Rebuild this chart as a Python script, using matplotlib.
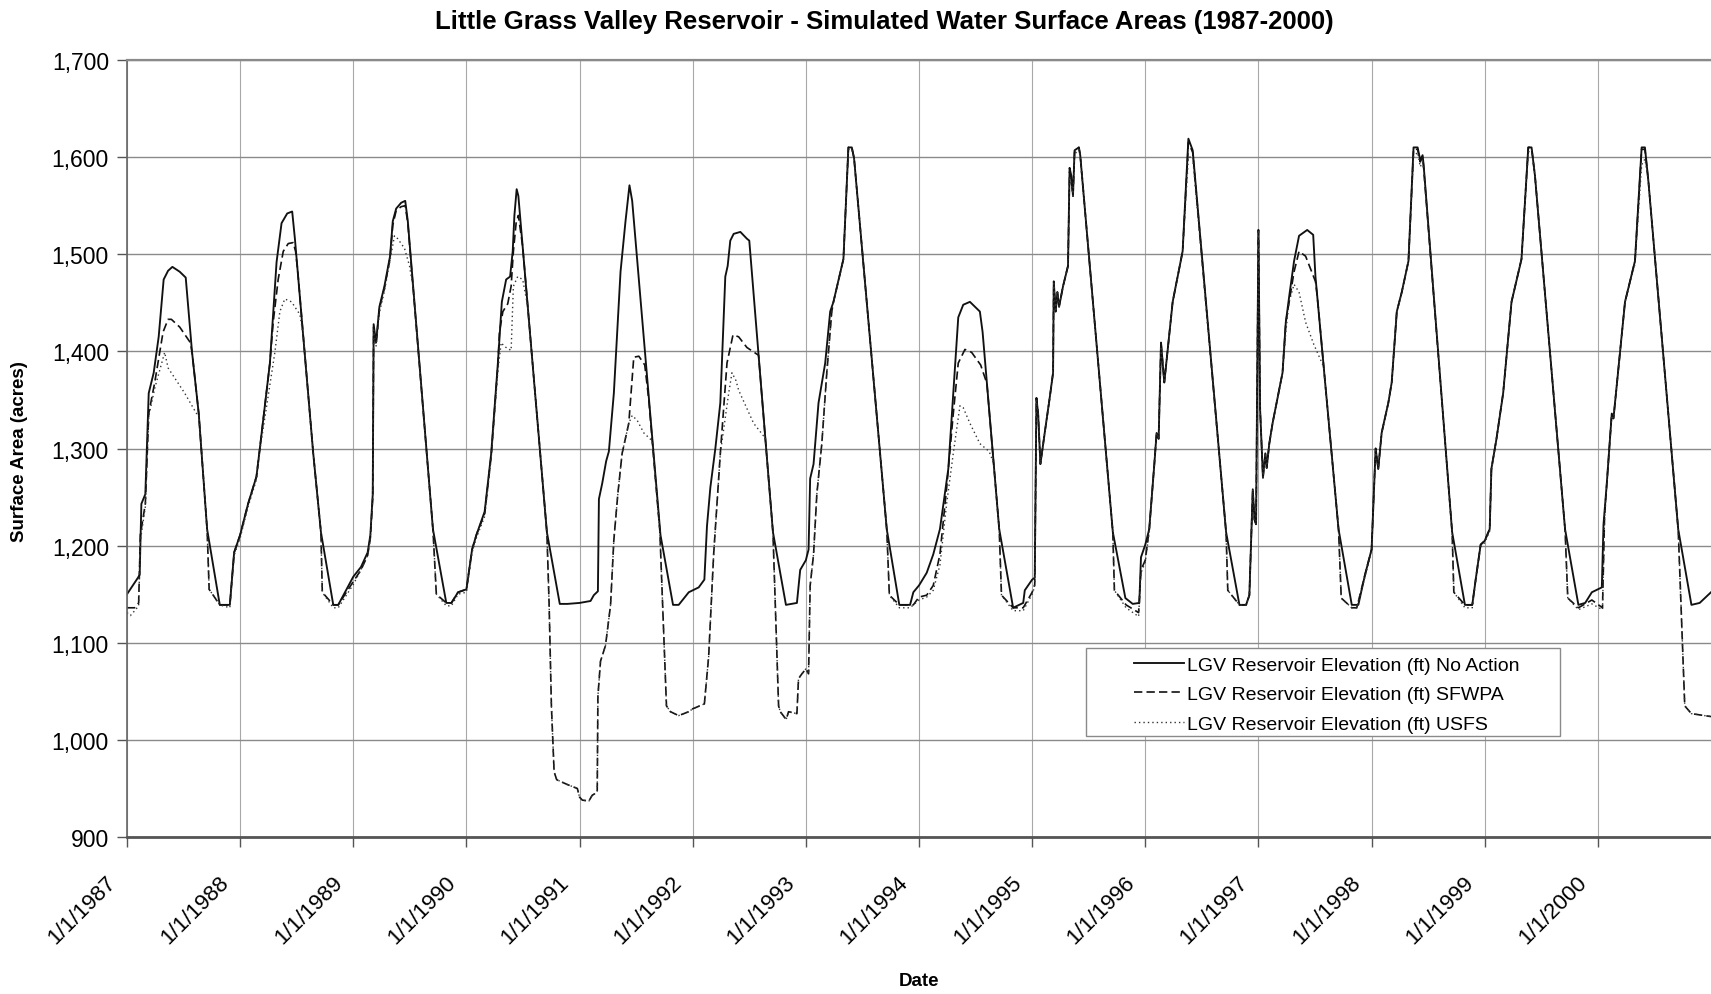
import matplotlib.pyplot as plt
from matplotlib.patches import Rectangle
from matplotlib.ticker import FuncFormatter
from matplotlib.transforms import ScaledTranslation

# surface area (acres) against decimal year
no_action = [
    (1987.000, 1150), (1987.097, 1167), (1987.112, 1170), (1987.127, 1243), (1987.162, 1253), (1987.192, 1357),
    (1987.236, 1378), (1987.280, 1415), (1987.324, 1474), (1987.363, 1483), (1987.401, 1487), (1987.466, 1482),
    (1987.519, 1476), (1987.575, 1399), (1987.634, 1336), (1987.708, 1217), (1987.820, 1139), (1987.909, 1139),
    (1987.947, 1193),
    (1988.000, 1211), (1988.070, 1243), (1988.144, 1271), (1988.174, 1300), (1988.263, 1388), (1988.322, 1492),
    (1988.366, 1532), (1988.416, 1542), (1988.460, 1544), (1988.484, 1516), (1988.646, 1295), (1988.714, 1214),
    (1988.823, 1139), (1988.867, 1139),
    (1989.000, 1168), (1989.068, 1178), (1989.127, 1193), (1989.151, 1211), (1989.172, 1253), (1989.180, 1428),
    (1989.201, 1409), (1989.231, 1446), (1989.275, 1467), (1989.325, 1498), (1989.349, 1534), (1989.379, 1547),
    (1989.423, 1553), (1989.459, 1555), (1989.482, 1534), (1989.704, 1217), (1989.822, 1141), (1989.867, 1141),
    (1989.926, 1152),
    (1990.000, 1155), (1990.050, 1196), (1990.088, 1211), (1990.161, 1235), (1990.219, 1295), (1990.278, 1388),
    (1990.313, 1451), (1990.351, 1474), (1990.386, 1477), (1990.409, 1503), (1990.424, 1540), (1990.444, 1567),
    (1990.459, 1560), (1990.711, 1214), (1990.825, 1140), (1990.892, 1140),
    (1991.000, 1141), (1991.097, 1143), (1991.126, 1149), (1991.162, 1153), (1991.171, 1248), (1991.200, 1264),
    (1991.235, 1287), (1991.259, 1297), (1991.303, 1357), (1991.362, 1482), (1991.406, 1534), (1991.441, 1571),
    (1991.465, 1555), (1991.715, 1211), (1991.826, 1139), (1991.876, 1139), (1991.965, 1152),
    (1992.000, 1154), (1992.053, 1157), (1992.103, 1165), (1992.126, 1220), (1992.156, 1260), (1992.200, 1300),
    (1992.244, 1347), (1992.288, 1477), (1992.309, 1488), (1992.332, 1514), (1992.362, 1521), (1992.421, 1523),
    (1992.479, 1516), (1992.500, 1514), (1992.709, 1214), (1992.824, 1139), (1992.921, 1141), (1992.950, 1175),
    (1993.000, 1185), (1993.024, 1196), (1993.038, 1269), (1993.068, 1284), (1993.112, 1347), (1993.171, 1388),
    (1993.215, 1441), (1993.244, 1451), (1993.332, 1495), (1993.376, 1610), (1993.406, 1610), (1993.426, 1599),
    (1993.715, 1217), (1993.826, 1139), (1993.921, 1139), (1993.950, 1152),
    (1994.000, 1159), (1994.068, 1172), (1994.126, 1191), (1994.185, 1217), (1994.259, 1279), (1994.347, 1435),
    (1994.391, 1448), (1994.450, 1451), (1994.538, 1441), (1994.562, 1420), (1994.709, 1217), (1994.832, 1136),
    (1994.921, 1141), (1994.935, 1154),
    (1995.000, 1165), (1995.023, 1167), (1995.038, 1352), (1995.053, 1336), (1995.073, 1284), (1995.111, 1316),
    (1995.155, 1352), (1995.185, 1378), (1995.191, 1472), (1995.208, 1441), (1995.223, 1461), (1995.238, 1446),
    (1995.273, 1467), (1995.317, 1488), (1995.331, 1589), (1995.346, 1581), (1995.361, 1560), (1995.375, 1607),
    (1995.413, 1610), (1995.425, 1602), (1995.713, 1214), (1995.824, 1146), (1995.889, 1140), (1995.947, 1141),
    (1995.962, 1188),
    (1996.000, 1201), (1996.035, 1217), (1996.080, 1284), (1996.100, 1316), (1996.118, 1310), (1996.139, 1409),
    (1996.168, 1368), (1996.242, 1451), (1996.330, 1503), (1996.381, 1619), (1996.419, 1607), (1996.714, 1214),
    (1996.832, 1139), (1996.891, 1139), (1996.920, 1149), (1996.950, 1258), (1996.965, 1227), (1996.979, 1222),
    (1997.000, 1525), (1997.015, 1340), (1997.040, 1270), (1997.061, 1295), (1997.073, 1280), (1997.096, 1305),
    (1997.125, 1326), (1997.169, 1352), (1997.213, 1378), (1997.242, 1430), (1997.277, 1461), (1997.315, 1493),
    (1997.359, 1519), (1997.431, 1525), (1997.484, 1520), (1997.504, 1477), (1997.708, 1217), (1997.825, 1139),
    (1997.883, 1139), (1997.942, 1170),
    (1998.000, 1196), (1998.036, 1300), (1998.059, 1279), (1998.089, 1316), (1998.148, 1347), (1998.178, 1368),
    (1998.223, 1441), (1998.267, 1461), (1998.326, 1493), (1998.371, 1610), (1998.407, 1610), (1998.430, 1597),
    (1998.451, 1602), (1998.460, 1592), (1998.712, 1214), (1998.825, 1139), (1998.890, 1139), (1998.920, 1165),
    (1998.964, 1201),
    (1999.000, 1205), (1999.044, 1217), (1999.059, 1279), (1999.104, 1310), (1999.163, 1357), (1999.237, 1451),
    (1999.325, 1495), (1999.385, 1610), (1999.414, 1610), (1999.444, 1581), (1999.710, 1217), (1999.828, 1139),
    (1999.888, 1141), (1999.947, 1152),
    (2000.000, 1155), (2000.035, 1157), (2000.050, 1222), (2000.079, 1264), (2000.123, 1336), (2000.138, 1331),
    (2000.182, 1383), (2000.240, 1451), (2000.328, 1493), (2000.387, 1610), (2000.416, 1610), (2000.446, 1576),
    (2000.710, 1217), (2000.827, 1139), (2000.900, 1141), (2001.000, 1152),
]

sfwpa = [
    (1987.000, 1136), (1987.068, 1136), (1987.103, 1141), (1987.118, 1211), (1987.162, 1243), (1987.192, 1336),
    (1987.245, 1368), (1987.319, 1420), (1987.363, 1433), (1987.392, 1433), (1987.466, 1425), (1987.560, 1409),
    (1987.575, 1399), (1987.634, 1336), (1987.708, 1217), (1987.726, 1155), (1987.820, 1139), (1987.909, 1139),
    (1987.947, 1193),
    (1988.000, 1211), (1988.070, 1243), (1988.144, 1271), (1988.174, 1300), (1988.263, 1388), (1988.292, 1430),
    (1988.336, 1474), (1988.381, 1503), (1988.425, 1511), (1988.469, 1512), (1988.490, 1503), (1988.507, 1485),
    (1988.646, 1295), (1988.714, 1214), (1988.726, 1152), (1988.823, 1139), (1988.867, 1139),
    (1989.000, 1163), (1989.068, 1175), (1989.127, 1190), (1989.151, 1208), (1989.172, 1250), (1989.180, 1425),
    (1989.201, 1407), (1989.231, 1444), (1989.275, 1465), (1989.325, 1496), (1989.349, 1530), (1989.379, 1545),
    (1989.423, 1549), (1989.459, 1550), (1989.482, 1532), (1989.704, 1217), (1989.734, 1150), (1989.822, 1141),
    (1989.867, 1141), (1989.926, 1152),
    (1990.000, 1155), (1990.050, 1196), (1990.088, 1211), (1990.161, 1233), (1990.219, 1293), (1990.278, 1386),
    (1990.292, 1420), (1990.322, 1441), (1990.365, 1449), (1990.395, 1467), (1990.415, 1503), (1990.439, 1532),
    (1990.459, 1540), (1990.497, 1508), (1990.711, 1214), (1990.731, 1139), (1990.751, 1035), (1990.775, 967),
    (1990.798, 959), (1990.892, 954), (1990.980, 950),
    (1991.000, 941), (1991.024, 938), (1991.082, 937), (1991.112, 943), (1991.156, 946), (1991.162, 1045),
    (1991.185, 1081), (1991.229, 1097), (1991.274, 1139), (1991.303, 1206), (1991.338, 1253), (1991.376, 1295),
    (1991.435, 1326), (1991.479, 1394), (1991.524, 1395), (1991.576, 1386), (1991.612, 1350), (1991.709, 1216),
    (1991.768, 1035), (1991.803, 1029), (1991.876, 1025), (1991.965, 1029),
    (1992.000, 1032), (1992.103, 1037), (1992.141, 1086), (1992.185, 1191), (1992.244, 1295), (1992.303, 1388),
    (1992.356, 1417), (1992.406, 1415), (1992.479, 1404), (1992.582, 1396), (1992.709, 1214), (1992.759, 1035),
    (1992.774, 1029), (1992.826, 1021), (1992.847, 1029), (1992.921, 1027), (1992.935, 1063), (1992.965, 1068),
    (1993.000, 1073), (1993.024, 1068), (1993.038, 1159), (1993.068, 1191), (1993.097, 1253), (1993.141, 1305),
    (1993.185, 1378), (1993.229, 1441), (1993.244, 1451), (1993.332, 1495), (1993.376, 1610), (1993.406, 1610),
    (1993.426, 1599), (1993.715, 1217), (1993.738, 1149), (1993.826, 1139), (1993.921, 1139), (1993.950, 1139),
    (1994.000, 1147), (1994.068, 1149), (1994.126, 1159), (1994.185, 1191), (1994.244, 1259), (1994.303, 1336),
    (1994.347, 1388), (1994.406, 1402), (1994.465, 1399), (1994.545, 1386), (1994.600, 1367), (1994.709, 1217),
    (1994.729, 1149), (1994.832, 1136), (1994.921, 1136),
    (1995.000, 1152), (1995.023, 1160), (1995.038, 1352), (1995.053, 1336), (1995.073, 1284), (1995.111, 1316),
    (1995.155, 1352), (1995.185, 1378), (1995.191, 1472), (1995.208, 1441), (1995.223, 1461), (1995.238, 1446),
    (1995.273, 1467), (1995.317, 1488), (1995.331, 1585), (1995.346, 1575), (1995.361, 1560), (1995.375, 1605),
    (1995.413, 1610), (1995.425, 1602), (1995.713, 1214), (1995.727, 1154), (1995.830, 1139), (1995.941, 1131),
    (1995.962, 1175),
    (1996.000, 1185), (1996.035, 1217), (1996.080, 1284), (1996.100, 1316), (1996.118, 1310), (1996.139, 1409),
    (1996.168, 1368), (1996.242, 1451), (1996.330, 1503), (1996.381, 1615), (1996.419, 1605), (1996.714, 1214),
    (1996.729, 1154), (1996.832, 1139), (1996.891, 1139), (1996.920, 1149), (1996.950, 1258), (1996.965, 1227),
    (1996.979, 1222),
    (1997.000, 1525), (1997.015, 1340), (1997.040, 1270), (1997.061, 1295), (1997.073, 1280), (1997.096, 1305),
    (1997.125, 1326), (1997.169, 1352), (1997.213, 1378), (1997.242, 1430), (1997.277, 1455), (1997.315, 1482),
    (1997.359, 1503), (1997.417, 1498), (1997.504, 1472), (1997.519, 1458), (1997.708, 1217), (1997.732, 1146),
    (1997.825, 1136), (1997.869, 1136), (1997.942, 1170),
    (1998.000, 1196), (1998.036, 1300), (1998.059, 1279), (1998.089, 1316), (1998.148, 1347), (1998.178, 1368),
    (1998.223, 1441), (1998.267, 1461), (1998.326, 1493), (1998.371, 1608), (1998.407, 1608), (1998.430, 1595),
    (1998.451, 1600), (1998.460, 1590), (1998.712, 1214), (1998.727, 1152), (1998.825, 1139), (1998.890, 1139),
    (1998.920, 1165), (1998.964, 1201),
    (1999.000, 1205), (1999.044, 1217), (1999.059, 1279), (1999.104, 1310), (1999.163, 1357), (1999.237, 1451),
    (1999.325, 1495), (1999.385, 1610), (1999.414, 1610), (1999.444, 1581), (1999.710, 1217), (1999.734, 1146),
    (1999.828, 1136), (1999.947, 1144),
    (2000.041, 1136), (2000.059, 1230), (2000.079, 1264), (2000.123, 1336), (2000.138, 1331), (2000.182, 1383),
    (2000.240, 1451), (2000.328, 1493), (2000.387, 1608), (2000.416, 1608), (2000.446, 1576), (2000.710, 1217),
    (2000.768, 1035), (2000.827, 1027), (2001.000, 1024),
]

usfs = [
    (1987.000, 1131), (1987.030, 1128), (1987.068, 1133), (1987.103, 1138), (1987.118, 1205), (1987.162, 1240),
    (1987.192, 1333), (1987.245, 1362), (1987.300, 1385), (1987.333, 1399), (1987.363, 1383), (1987.510, 1357),
    (1987.614, 1336), (1987.634, 1336), (1987.708, 1217), (1987.726, 1155), (1987.820, 1139), (1987.909, 1136),
    (1987.947, 1190),
    (1988.000, 1208), (1988.070, 1240), (1988.144, 1268), (1988.174, 1298), (1988.307, 1399), (1988.351, 1441),
    (1988.395, 1454), (1988.454, 1451), (1988.528, 1438), (1988.560, 1415), (1988.646, 1295), (1988.714, 1214),
    (1988.726, 1152), (1988.823, 1136), (1988.867, 1136),
    (1989.000, 1160), (1989.068, 1175), (1989.127, 1190), (1989.151, 1208), (1989.172, 1250), (1989.180, 1422),
    (1989.201, 1405), (1989.231, 1440), (1989.275, 1462), (1989.325, 1494), (1989.364, 1519), (1989.393, 1516),
    (1989.453, 1506), (1989.497, 1488), (1989.530, 1465), (1989.704, 1217), (1989.734, 1150), (1989.822, 1138),
    (1989.867, 1138), (1989.926, 1150),
    (1990.000, 1152), (1990.050, 1193), (1990.088, 1208), (1990.161, 1230), (1990.219, 1290), (1990.278, 1380),
    (1990.307, 1409), (1990.336, 1405), (1990.395, 1401), (1990.415, 1467), (1990.453, 1477), (1990.497, 1474),
    (1990.541, 1447), (1990.711, 1214), (1990.731, 1139), (1990.751, 1035), (1990.775, 967), (1990.798, 959),
    (1990.892, 954), (1990.980, 950),
    (1991.000, 941), (1991.024, 938), (1991.082, 937), (1991.112, 943), (1991.156, 946), (1991.162, 1045),
    (1991.185, 1081), (1991.229, 1097), (1991.274, 1139), (1991.303, 1206), (1991.338, 1253), (1991.376, 1295),
    (1991.435, 1326), (1991.465, 1334), (1991.509, 1329), (1991.568, 1316), (1991.641, 1308), (1991.709, 1216),
    (1991.768, 1035), (1991.803, 1029), (1991.876, 1025), (1991.965, 1029),
    (1992.000, 1032), (1992.103, 1037), (1992.141, 1086), (1992.185, 1191), (1992.244, 1295), (1992.318, 1357),
    (1992.347, 1378), (1992.382, 1370), (1992.406, 1360), (1992.538, 1326), (1992.626, 1313), (1992.641, 1312),
    (1992.709, 1214), (1992.759, 1035), (1992.774, 1029), (1992.826, 1021), (1992.847, 1029), (1992.921, 1027),
    (1992.935, 1063), (1992.965, 1068),
    (1993.000, 1073), (1993.024, 1068), (1993.038, 1159), (1993.068, 1191), (1993.097, 1253), (1993.141, 1305),
    (1993.185, 1378), (1993.229, 1441), (1993.244, 1451), (1993.332, 1495), (1993.376, 1608), (1993.406, 1608),
    (1993.426, 1599), (1993.715, 1217), (1993.738, 1149), (1993.826, 1136), (1993.921, 1136), (1993.950, 1139),
    (1994.000, 1144), (1994.068, 1147), (1994.126, 1154), (1994.185, 1180), (1994.244, 1243), (1994.303, 1295),
    (1994.362, 1344), (1994.391, 1342), (1994.450, 1326), (1994.538, 1305), (1994.620, 1297), (1994.660, 1285),
    (1994.709, 1217), (1994.729, 1149), (1994.832, 1133), (1994.921, 1133),
    (1995.000, 1150), (1995.023, 1158), (1995.038, 1350), (1995.053, 1336), (1995.073, 1284), (1995.111, 1316),
    (1995.155, 1352), (1995.185, 1378), (1995.191, 1470), (1995.208, 1441), (1995.223, 1461), (1995.238, 1446),
    (1995.273, 1467), (1995.317, 1488), (1995.331, 1580), (1995.346, 1572), (1995.361, 1560), (1995.375, 1603),
    (1995.413, 1608), (1995.425, 1600), (1995.713, 1214), (1995.727, 1154), (1995.830, 1136), (1995.941, 1127),
    (1995.962, 1172),
    (1996.000, 1183), (1996.035, 1215), (1996.080, 1284), (1996.100, 1316), (1996.118, 1310), (1996.139, 1405),
    (1996.168, 1368), (1996.242, 1451), (1996.330, 1503), (1996.381, 1600), (1996.419, 1600), (1996.714, 1214),
    (1996.729, 1154), (1996.832, 1139), (1996.891, 1139), (1996.920, 1149), (1996.950, 1258), (1996.965, 1227),
    (1996.979, 1222),
    (1997.000, 1525), (1997.015, 1340), (1997.040, 1270), (1997.061, 1295), (1997.073, 1280), (1997.096, 1305),
    (1997.125, 1326), (1997.169, 1352), (1997.213, 1378), (1997.242, 1420), (1997.271, 1451), (1997.315, 1469),
    (1997.359, 1461), (1997.417, 1430), (1997.490, 1407), (1997.577, 1384), (1997.708, 1217), (1997.732, 1146),
    (1997.825, 1136), (1997.869, 1136), (1997.942, 1168),
    (1998.000, 1194), (1998.036, 1298), (1998.059, 1279), (1998.089, 1316), (1998.148, 1347), (1998.178, 1368),
    (1998.223, 1441), (1998.267, 1461), (1998.326, 1493), (1998.371, 1600), (1998.407, 1605), (1998.430, 1590),
    (1998.451, 1595), (1998.460, 1588), (1998.712, 1214), (1998.727, 1152), (1998.825, 1136), (1998.890, 1136),
    (1998.920, 1163), (1998.964, 1199),
    (1999.000, 1203), (1999.044, 1215), (1999.059, 1277), (1999.104, 1310), (1999.163, 1357), (1999.237, 1451),
    (1999.325, 1495), (1999.385, 1605), (1999.414, 1608), (1999.444, 1581), (1999.710, 1217), (1999.734, 1146),
    (1999.828, 1134), (1999.947, 1140),
    (2000.041, 1134), (2000.059, 1228), (2000.079, 1262), (2000.123, 1334), (2000.138, 1331), (2000.182, 1383),
    (2000.240, 1451), (2000.328, 1490), (2000.387, 1592), (2000.416, 1598), (2000.446, 1576), (2000.710, 1217),
    (2000.768, 1035), (2000.827, 1027), (2001.000, 1024),
]

series_names = [
    "LGV Reservoir Elevation (ft) No Action",
    "LGV Reservoir Elevation (ft) SFWPA",
    "LGV Reservoir Elevation (ft) USFS",
]
year_ticks = list(range(1987, 2001))
year_labels = ["1/1/%d" % y for y in year_ticks]
area_ticks = list(range(900, 1701, 100))

plt.rcParams['font.family'] = ['Liberation Sans', 'DejaVu Sans']

fig = plt.figure(figsize=(17.11, 9.95), dpi=100)
ax = fig.add_axes([127 / 1711, 157 / 995, 1584 / 1711, 777 / 995])

# grid first so the lines sit on top
ax.set_axisbelow(True)
ax.grid(True, axis='y', color='#8a8a8a', lw=1.0)
ax.grid(True, axis='x', color='#a8a8a8', lw=0.8)

t, v = zip(*no_action)
h1, = ax.plot(t, v, color='#111111', lw=1.35, label=series_names[0])
t, v = zip(*sfwpa)
h2, = ax.plot(t, v, color='#111111', lw=1.2, dashes=(5, 2.5), label=series_names[1])
t, v = zip(*usfs)
h3, = ax.plot(t, v, color='#333333', lw=1.0, dashes=(1, 2.2), label=series_names[2])

ax.set_xlim(1987, 2001)
ax.set_ylim(900, 1700)
ax.set_xticks(year_ticks)
ax.set_xticklabels(year_labels, rotation=45, ha='right', va='center', rotation_mode='anchor')
ax.set_yticks(area_ticks)
ax.yaxis.set_major_formatter(FuncFormatter(lambda val, pos: f"{int(val):,}"))
ax.tick_params(axis='both', direction='out', length=7, width=1, color='#555555')
ax.tick_params(axis='x', pad=20, labelsize=16)
ax.tick_params(axis='y', pad=6, labelsize=16.5)

# nudge the slanted date labels left, as in the original
shift = ScaledTranslation(-0.14, -0.04, fig.dpi_scale_trans)
for lab in ax.get_xticklabels():
    lab.set_transform(lab.get_transform() + shift)

ax.spines['top'].set_color('#8a8a8a')
ax.spines['top'].set_linewidth(1.6)
ax.spines['left'].set_color('#666666')
ax.spines['left'].set_linewidth(1.2)
ax.spines['bottom'].set_color('#555555')
ax.spines['bottom'].set_linewidth(2.0)
ax.spines['right'].set_visible(False)

# legend box drawn separately: the original has wide side padding
ax.add_patch(Rectangle((0.6054, 0.130), 0.2992, 0.1133, transform=ax.transAxes,
                       facecolor='white', edgecolor='#8a8a8a', lw=1.0, zorder=4))
leg = ax.legend(handles=[h1, h2, h3], loc='upper left', bbox_to_anchor=(0.6355, 0.2325),
                frameon=False, fontsize=14, borderpad=0, handlelength=2.6,
                handletextpad=0.15, labelspacing=0.6, borderaxespad=0)
leg.set_zorder(5)

fig.text(884 / 1711, 1 - 22 / 995, "Little Grass Valley Reservoir - Simulated Water Surface Areas (1987-2000)",
         ha='center', va='center', fontsize=18.5, fontweight='bold')
fig.text(20 / 1711, 1 - 452 / 995, "Surface Area (acres)", rotation=90, ha='center', va='center',
         fontsize=13.5, fontweight='bold')
fig.text(919 / 1711, 1 - 982 / 995, "Date", ha='center', va='center', fontsize=13.5, fontweight='bold')

fig.savefig('out.png', dpi=100)
